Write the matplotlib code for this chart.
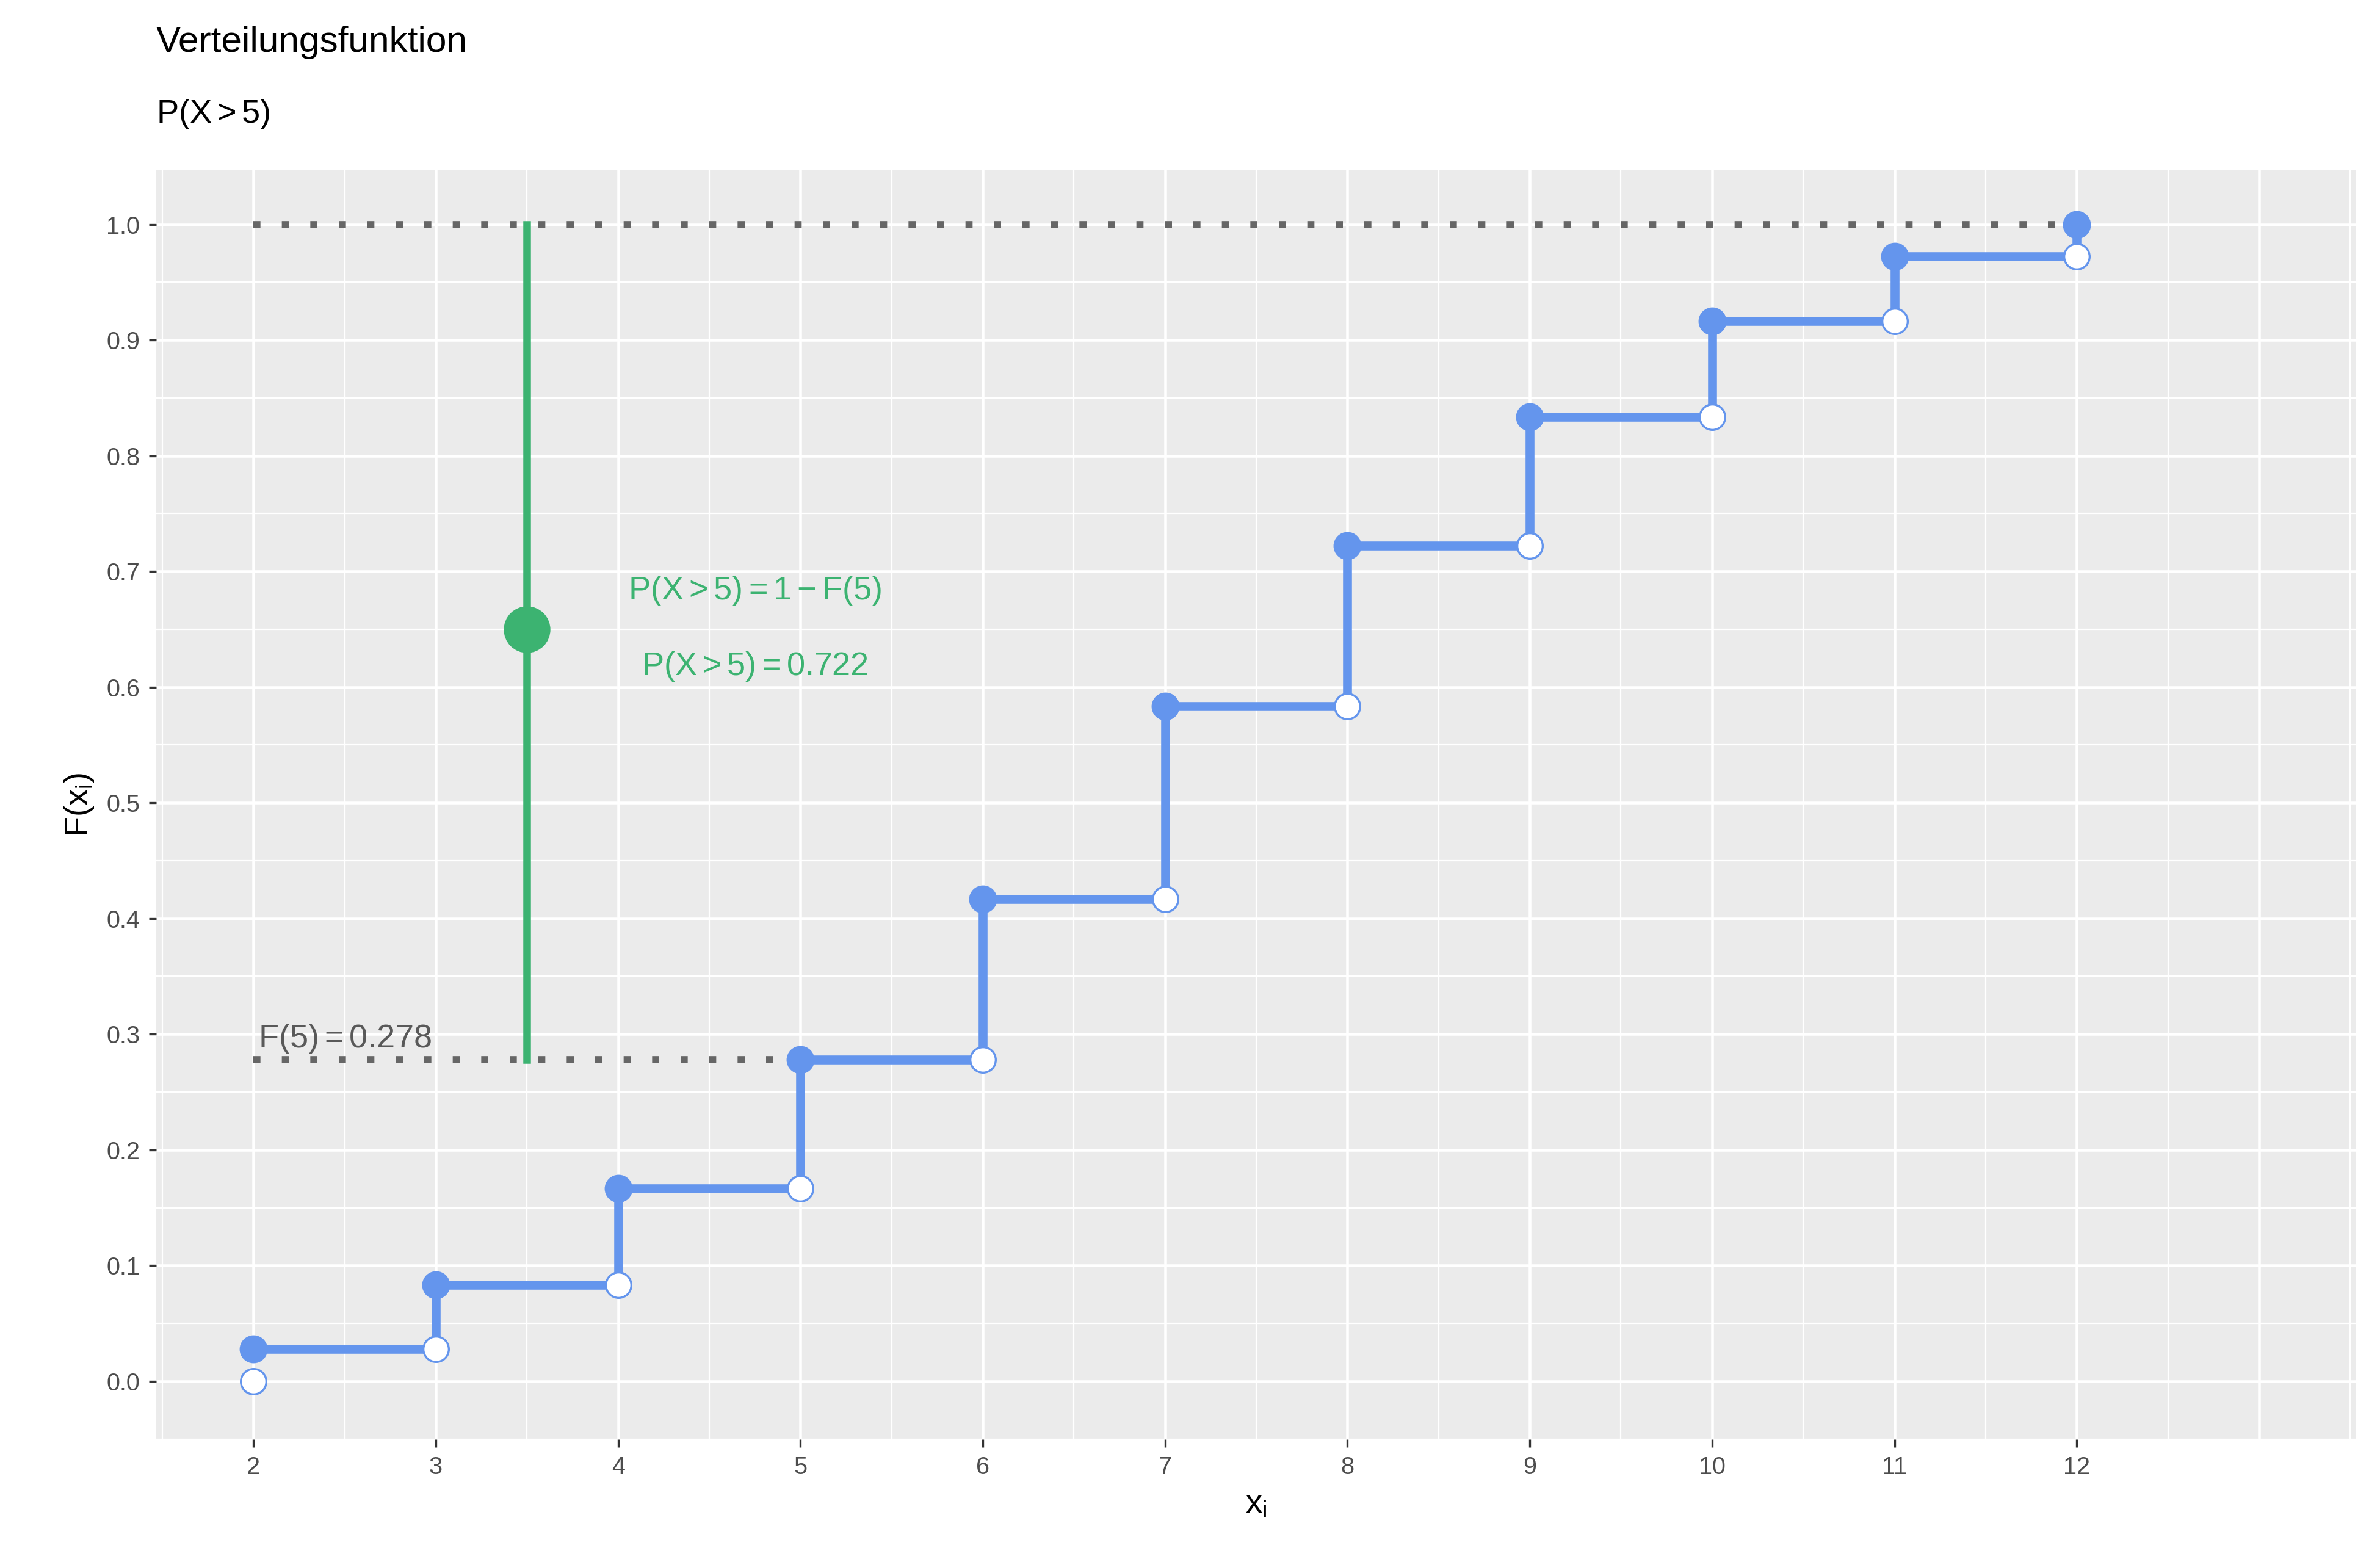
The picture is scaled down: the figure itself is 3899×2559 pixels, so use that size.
import numpy as np
import matplotlib
matplotlib.use('Agg')
import matplotlib.pyplot as plt
from matplotlib.ticker import MultipleLocator, FixedLocator

# Augensumme zweier Wuerfel
x_vals = np.arange(2, 13)
cdf = np.array([1, 3, 6, 10, 15, 21, 26, 30, 33, 35, 36]) / 36
cdf_prev = np.concatenate([[0], cdf[:-1]])
k = 5
f_k = cdf[x_vals == k][0]

blue = '#6495ED'
green = '#3CB371'
grey_txt = '#595959'

plt.rcParams['font.family'] = ['Liberation Sans', 'DejaVu Sans']
plt.rcParams['mathtext.fontset'] = 'custom'
plt.rcParams['mathtext.rm'] = 'Liberation Sans'
plt.rcParams['mathtext.it'] = 'Liberation Sans:italic'
fig = plt.figure(figsize=(3899 / 300, 2559 / 300), dpi=300)
ax = fig.add_axes([103 / 1568, 1 - 948 / 1029, (1552 - 103) / 1568, (948 - 112) / 1029])
ax.set_facecolor('#EBEBEB')
for s in ax.spines.values():
    s.set_visible(False)

ax.set_xlim(1.467, 13.53)
ax.set_ylim(-0.05, 1.047)
ax.xaxis.set_major_locator(FixedLocator(list(range(2, 13))))
ax.xaxis.set_minor_locator(FixedLocator(np.arange(1.5, 14, 1.0)))
ax.yaxis.set_major_locator(MultipleLocator(0.1))
ax.yaxis.set_minor_locator(MultipleLocator(0.05))
ax.yaxis.set_major_formatter(matplotlib.ticker.FormatStrFormatter('%.1f'))
ax.grid(which='major', color='white', lw=1.1)
ax.grid(which='minor', color='white', lw=0.55)
ax.axvline(13, color='white', lw=1.1, zorder=0.5)
ax.set_axisbelow(True)
ax.tick_params(which='major', length=3, color='#333333', labelsize=9.5, labelcolor='#4D4D4D')
ax.tick_params(which='minor', length=0)

# gestrichelte Hilfslinien
ax.plot([2, 12], [1, 1], ls=(0, (1, 3)), color='#666666', lw=2.8, zorder=2)
ax.plot([2, k], [f_k, f_k], ls=(0, (1, 3)), color='#666666', lw=2.8, zorder=2)

# Treppenfunktion
for i in range(len(x_vals) - 1):
    ax.plot([x_vals[i], x_vals[i + 1]], [cdf[i], cdf[i]], color=blue, lw=3.5, zorder=3, solid_capstyle='butt')
    ax.plot([x_vals[i + 1], x_vals[i + 1]], [cdf[i], cdf[i + 1]], color=blue, lw=3.5, zorder=3, solid_capstyle='butt')
ax.scatter(x_vals, cdf, s=100, color=blue, zorder=4)
ax.scatter(x_vals, cdf_prev, s=100, facecolor='white', edgecolor=blue, lw=0.8, zorder=5)

# P(X>5)
ax.plot([3.5, 3.5], [f_k, 1], color=green, lw=3, zorder=3)
ax.scatter([3.5], [(1 + f_k) / 2 + 0.011], s=300, color=green, zorder=4)
ax.text(4.75, 0.683, r'$\mathrm{P(X > 5) = 1 - F(5)}$', color=green, fontsize=13, ha='center', va='center')
ax.text(4.75, 0.618, r'$\mathrm{P(X > 5) = 0.722}$', color=green, fontsize=13, ha='center', va='center')
ax.text(2.5, 0.296, r'$\mathrm{F(5) = 0.278}$', color=grey_txt, fontsize=13, ha='center', va='center')

ax.set_xlabel(r'$\mathrm{x_i}$', fontsize=13)
ax.set_ylabel(r'$\mathrm{F(x_i)}$', fontsize=13)
fig.text(103 / 1568, 1 - 28 / 1029, 'Verteilungsfunktion', fontsize=14.5, va='center')
fig.text(103 / 1568, 1 - 75 / 1029, r'$\mathrm{P(X > 5)}$', fontsize=13, va='center')

fig.savefig('out.png', dpi=300, facecolor='white')
